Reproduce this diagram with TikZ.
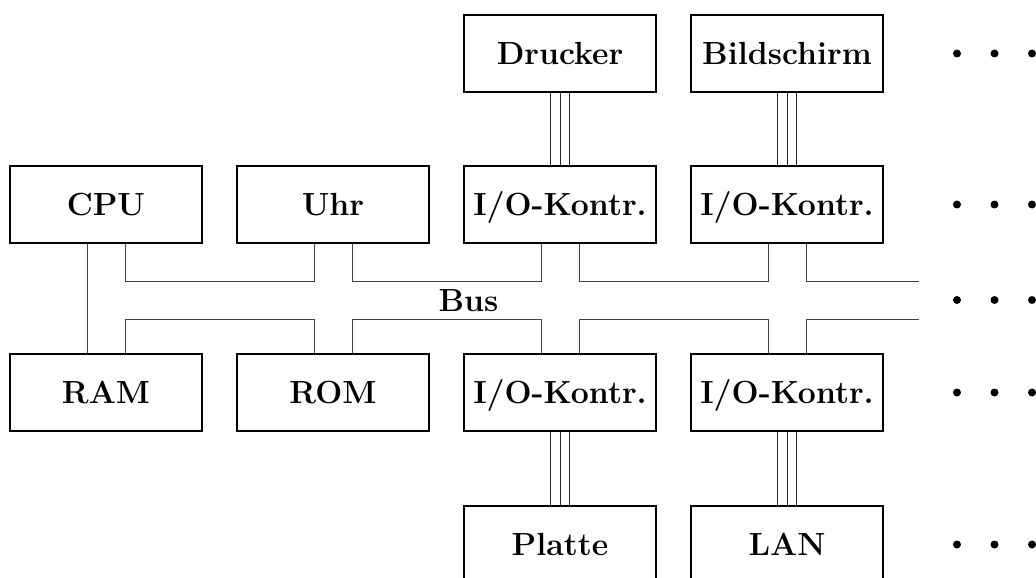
\documentclass[tikz,border=0pt]{standalone}
\usetikzlibrary{calc}
\begin{document}
\begin{tikzpicture}[x=1pt,y=-1pt,
  box/.style={draw,line width=1.8pt,minimum width=192pt,minimum height=77pt,inner sep=0pt,
    font=\fontsize{32}{38}\selectfont\bfseries,text height=22pt,text depth=0pt},
  conn/.style={line width=1pt,draw=black!75},
  dotnode/.style={circle,fill=black,inner sep=0pt,minimum size=8pt}]
\useasboundingbox (0,0) rectangle (1036,578);
\clip (0,0) rectangle (1036,578);
% columns and rows
\def\ca{106}\def\cb{333}\def\cc{560}\def\cd{787}
\def\ra{53.5}\def\rb{204.5}\def\rc{392.5}\def\rd{544.5}
\node[box] (drucker) at (\cc,\ra) {Drucker};
\node[box] (bild) at (\cd,\ra) {Bildschirm};
\node[box] (cpu) at (\ca,\rb) {CPU};
\node[box] (uhr) at (\cb,\rb) {Uhr};
\node[box] (ioa) at (\cc,\rb) {I/O-Kontr.};
\node[box] (iob) at (\cd,\rb) {I/O-Kontr.};
\node[box] (ram) at (\ca,\rc) {RAM};
\node[box] (rom) at (\cb,\rc) {ROM};
\node[box] (ioc) at (\cc,\rc) {I/O-Kontr.};
\node[box] (iod) at (\cd,\rc) {I/O-Kontr.};
\node[box] (platte) at (\cc,\rd) {Platte};
\node[box] (lan) at (\cd,\rd) {LAN};
\node[anchor=base,font=\fontsize{32}{38}\selectfont\bfseries] (bus) at (468.5,311.7) {Bus};
% bus lines
\coordinate (busU) at (919,281);
\coordinate (busL) at (919,319);
\foreach \n in {cpu,uhr,ioa,iob}{
  \coordinate (\n L) at ([xshift=-19pt]\n.south);
  \coordinate (\n R) at ([xshift=19pt]\n.south);
}
\foreach \n in {ram,rom,ioc,iod}{
  \coordinate (\n L) at ([xshift=-19pt]\n.north);
  \coordinate (\n R) at ([xshift=19pt]\n.north);
}
\draw[conn] (cpuL) -- (ramL);
\draw[conn] (cpuR) -- (cpuR |- busU) -- (uhrL |- busU) -- (uhrL);
\draw[conn] (uhrR) -- (uhrR |- busU) -- (ioaL |- busU) -- (ioaL);
\draw[conn] (ioaR) -- (ioaR |- busU) -- (iobL |- busU) -- (iobL);
\draw[conn] (iobR) -- (iobR |- busU) -- (busU);
\draw[conn] (ramR) -- (ramR |- busL) -- (romL |- busL) -- (romL);
\draw[conn] (romR) -- (romR |- busL) -- (iocL |- busL) -- (iocL);
\draw[conn] (iocR) -- (iocR |- busL) -- (iodL |- busL) -- (iodL);
\draw[conn] (iodR) -- (iodR |- busL) -- (busL);
% triple lines
\foreach \d in {-9.5,0,9.5}{
  \draw[conn,draw=black!85] ([xshift=\d pt]drucker.south) -- ([xshift=\d pt]ioa.north);
  \draw[conn,draw=black!85] ([xshift=\d pt]bild.south) -- ([xshift=\d pt]iob.north);
  \draw[conn,draw=black!85] ([xshift=\d pt]ioc.south) -- ([xshift=\d pt]platte.north);
  \draw[conn,draw=black!85] ([xshift=\d pt]iod.south) -- ([xshift=\d pt]lan.north);
}
% dots
\foreach \r/\y in {a/53.5,b/204.5,c/300,d/392.5,e/544.5}{
  \node[dotnode] (dot\r1) at (957,\y) {};
  \node[dotnode] (dot\r2) at (994.5,\y) {};
  \node[dotnode] (dot\r3) at (1032,\y) {};
}
\end{tikzpicture}
\end{document}
